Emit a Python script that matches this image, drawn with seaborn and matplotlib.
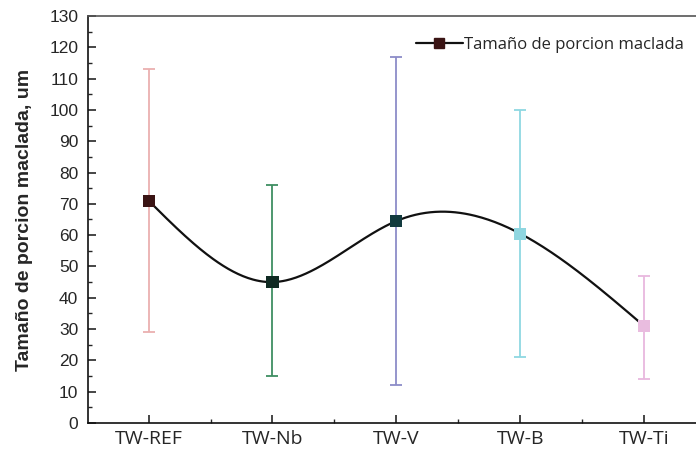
import numpy as np
import pandas as pd
import matplotlib
matplotlib.use("Agg")
import matplotlib.pyplot as plt
import seaborn as sns
from matplotlib.lines import Line2D
from matplotlib.ticker import MultipleLocator

categories = ["TW-REF", "TW-Nb", "TW-V", "TW-B", "TW-Ti"]
mean_size = [71, 45, 64.5, 60.5, 31]
err_low = [29, 15, 12, 21, 14]
err_high = [113, 76, 117, 100, 47]
marker_colors = ["#3a1414", "#0f2a22", "#123a3e", "#8fd6e0", "#e9bcdf"]
bar_colors = ["#eab0b0", "#3f8f62", "#8c8cc8", "#8fd8e2", "#e8b8de"]

df = pd.DataFrame({"muestra": categories, "tam": mean_size})
df["x"] = np.arange(len(categories))


def natural_spline(x, y, xs):
    x = np.asarray(x, float)
    y = np.asarray(y, float)
    n = len(x)
    h = np.diff(x)
    A = np.zeros((n, n))
    b = np.zeros(n)
    A[0, 0] = A[-1, -1] = 1
    for i in range(1, n - 1):
        A[i, i - 1] = h[i - 1]
        A[i, i] = 2 * (h[i - 1] + h[i])
        A[i, i + 1] = h[i]
        b[i] = 3 * ((y[i + 1] - y[i]) / h[i] - (y[i] - y[i - 1]) / h[i - 1])
    c = np.linalg.solve(A, b)
    out = np.empty_like(xs)
    for k, t in enumerate(xs):
        i = min(np.searchsorted(x, t, side="right") - 1, n - 2)
        i = max(i, 0)
        dx = t - x[i]
        bi = (y[i + 1] - y[i]) / h[i] - h[i] * (2 * c[i] + c[i + 1]) / 3
        di = (c[i + 1] - c[i]) / (3 * h[i])
        out[k] = y[i] + bi * dx + c[i] * dx ** 2 + di * dx ** 3
    return out


sns.set_style("white")
plt.rcParams["font.family"] = ["Liberation Sans", "DejaVu Sans"]

fig = plt.figure(figsize=(6.96, 4.54), dpi=100)
ax = fig.add_axes([0.1264, 0.0683, 0.8736, 0.8965])

xs = np.linspace(0, len(categories) - 1, 300)
curve = pd.DataFrame({"x": xs, "y": natural_spline(df["x"], df["tam"], xs)})
sns.lineplot(data=curve, x="x", y="y", ax=ax, color="#111111", lw=1.6, zorder=2)

for i, row in df.iterrows():
    ax.errorbar(row["x"], row["tam"],
                yerr=[[row["tam"] - err_low[i]], [err_high[i] - row["tam"]]],
                fmt="none", ecolor=bar_colors[i], elinewidth=1.3, capsize=4,
                capthick=1.3, zorder=1)

sns.scatterplot(data=df, x="x", y="tam", hue="muestra", palette=marker_colors,
                marker="s", s=75, edgecolor="none", ax=ax, legend=False, zorder=3)

ax.set_xlim(-0.49, 4.42)
ax.set_ylim(0, 130)
ax.set_xticks(df["x"])
ax.set_xticklabels(categories, fontsize=14, family=["Open Sans", "DejaVu Sans"])
ax.xaxis.set_minor_locator(MultipleLocator(0.5))
ax.yaxis.set_major_locator(MultipleLocator(10))
ax.yaxis.set_minor_locator(MultipleLocator(5))
ax.tick_params(axis="both", which="major", direction="in", length=6, width=1.2,
               left=True, bottom=True, right=False, top=False)
ax.tick_params(axis="both", which="minor", direction="in", length=3, width=1.0,
               left=True, bottom=True, right=False, top=False)
ax.tick_params(axis="y", labelsize=12.5, pad=7)
ax.tick_params(axis="x", pad=5)
ax.set_xlabel("")
ax.set_ylabel("Tamaño de porcion maclada, um", fontsize=14, fontweight="bold",
              labelpad=12)
ax.spines["right"].set_visible(False)
for name in ("left", "bottom", "top"):
    ax.spines[name].set_linewidth(1.2)
    ax.spines[name].set_color("#111111")
ax.spines["top"].set_color("#555555")

handle = Line2D([0], [0], color="#111111", lw=1.6, marker="s", markersize=7,
                markerfacecolor=marker_colors[0], markeredgecolor=marker_colors[0])
ax.legend([handle], ["Tamaño de porcion maclada"], loc="upper right",
          bbox_to_anchor=(1.0, 0.978), frameon=False, handlelength=2.8,
          handletextpad=0.1, borderaxespad=0.3,
          prop={"family": ["Open Sans", "DejaVu Sans"], "size": 12})

fig.savefig("out.png", dpi=100)
